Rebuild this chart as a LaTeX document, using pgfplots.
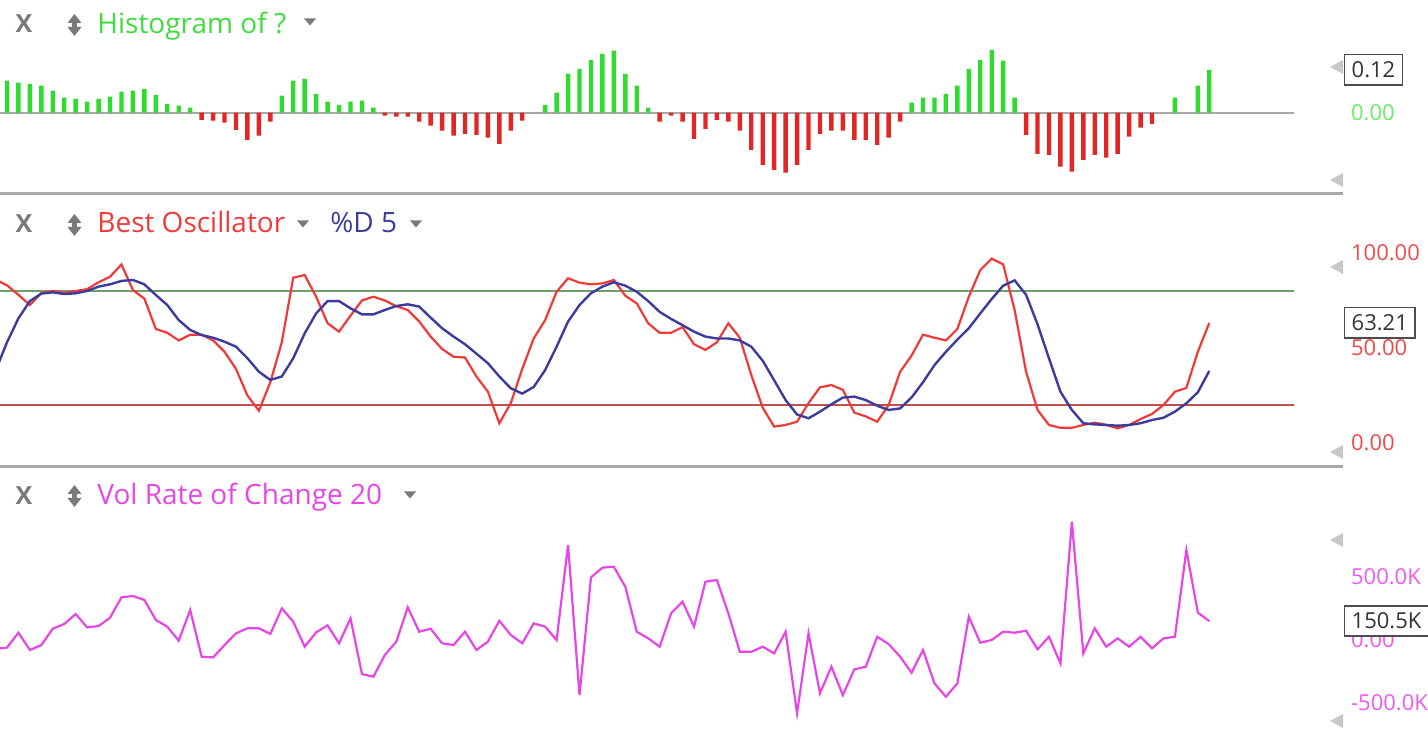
\documentclass[border=0pt]{standalone}
\usepackage{pgfplots}
\pgfplotsset{compat=1.18}
\usepackage{pgfplotstable}
\usepackage{fontspec}
\setmainfont{Open Sans}

\definecolor{histgreen}{HTML}{2EDB2E}
\definecolor{histred}{HTML}{E22626}
\definecolor{titlegreen}{HTML}{3FDC3F}
\definecolor{ticgreen}{HTML}{66EE66}
\definecolor{oscred}{HTML}{F03A3A}
\definecolor{ticred}{HTML}{EE4A4A}
\definecolor{dblue}{HTML}{3C3C9C}
\definecolor{refgreen}{HTML}{6E9E6E}
\definecolor{refred}{HTML}{BE5050}
\definecolor{volmag}{HTML}{E646E6}
\definecolor{ticmag}{HTML}{EE5AEE}
\definecolor{sepgray}{HTML}{A8A8A8}
\definecolor{icongray}{HTML}{7A7A7A}
\definecolor{trigray}{HTML}{C8C8C8}

% histogram, one table for each colour
\pgfplotstableread{
i v
0 0.090
1 0.084
2 0.081
3 0.076
4 0.062
5 0.042
6 0.039
7 0.031
8 0.039
9 0.045
10 0.059
11 0.062
12 0.067
13 0.050
14 0.025
15 0.020
16 0.014
24 0.048
25 0.090
26 0.095
27 0.053
28 0.031
29 0.022
30 0.031
31 0.034
32 0.014
47 0.022
48 0.056
49 0.109
50 0.123
51 0.148
52 0.165
53 0.174
54 0.109
55 0.076
56 0.014
79 0.028
80 0.042
81 0.042
82 0.053
83 0.076
84 0.123
85 0.148
86 0.176
87 0.146
88 0.042
102 0.042
104 0.076
105 0.120
}\histup

\pgfplotstableread{
i v
17 -0.020
18 -0.022
19 -0.028
20 -0.048
21 -0.076
22 -0.064
23 -0.025
33 -0.008
34 -0.011
35 -0.011
36 -0.025
37 -0.036
38 -0.050
39 -0.064
40 -0.059
41 -0.062
42 -0.070
43 -0.087
44 -0.050
45 -0.022
57 -0.025
58 -0.008
59 -0.025
60 -0.073
61 -0.045
62 -0.020
63 -0.025
64 -0.050
65 -0.104
66 -0.146
67 -0.160
68 -0.168
69 -0.146
70 -0.104
71 -0.059
72 -0.050
73 -0.050
74 -0.076
75 -0.076
76 -0.090
77 -0.070
78 -0.025
89 -0.062
90 -0.115
91 -0.118
92 -0.151
93 -0.165
94 -0.132
95 -0.118
96 -0.126
97 -0.115
98 -0.067
99 -0.042
100 -0.031
}\histdown

% best oscillator and its %D 5
\pgfplotstableread{
i red blue
-1 86 38
0 83 53
1 78 65.6
2 72.6 74.7
3 79 78.6
4 80 79.3
5 79 78.4
6 80 78.8
7 81 80
8 84.6 82.3
9 87.5 83.5
10 94 85.3
11 80.5 85.8
12 76 83.5
13 60 77.9
14 58 72.6
15 54 64.7
16 57 59.5
17 57 56.8
18 54 55.4
19 48 53.3
20 39 50.7
21 25 44.6
22 17 37.5
23 32 33.2
24 53 35
25 87 44.6
26 88.4 57.7
27 77 68.2
28 63 74.7
29 58.6 74.7
30 67 70.9
31 75 67.7
32 77 67.7
33 75 70
34 72 72.1
35 70 73
36 64 71.8
37 56 66
38 49.5 60.4
39 45.4 56
40 45 52
41 35 47
42 27 42
43 10.4 35
44 21 28.8
45 39 26
46 55 29.5
47 64.7 38.4
48 79.6 50.7
49 86.7 63.9
50 84.4 72.6
51 83.5 78.8
52 84 82.3
53 85.8 84.6
54 77.5 82.8
55 73.5 79.6
56 63 74.7
57 58 69
58 58 65.3
59 61 62
60 52 58.6
61 49 56
62 53 55
63 63 55
64 55.4 54
65 35.8 50.7
66 18.6 43.3
67 8.6 33
68 9.5 22.6
69 11.2 15
70 21 13
71 29.3 16.5
72 30.5 20.4
73 28 23.9
74 16 24.4
75 14 22.6
76 11.2 19.6
77 20 17.4
78 37.5 18.2
79 46 24
80 57 32
81 55.4 41
82 54 48
83 60 54.4
84 77 60.4
85 91 68.2
86 97 75.8
87 94 82.8
88 70 85.6
89 37.5 78
90 17.4 62.5
91 9.5 44.6
92 8 27
93 8 17.4
94 9.5 10.4
95 10.7 9.8
96 9.5 9.5
97 7.7 9.1
98 9.5 9.5
99 12.6 10.4
100 15.3 12.1
101 20 13.3
102 27 16.5
103 29 20.9
104 48 26.7
105 63.21 37.9
}\osc

% vol rate of change 20, in thousands
\pgfplotstableread{
i v
-1 -70
0 -60
1 58
2 -79
3 -40
4 90
5 127
6 206
7 100
8 111
9 177
10 339
11 349
12 318
13 159
14 106
15 -5
16 238
17 -132
18 -138
19 -40
20 53
21 93
22 93
23 48
24 251
25 146
26 -53
27 61
28 116
29 -26
30 172
31 -270
32 -291
33 -119
34 -13
35 259
36 66
37 90
38 -26
39 -40
40 66
41 -79
42 -13
43 153
44 40
45 -26
46 132
47 106
48 0
49 754
50 -437
51 497
52 574
53 582
54 423
55 66
56 13
57 -53
58 212
59 304
60 106
61 463
62 476
63 212
64 -93
65 -93
66 -53
67 -106
68 66
69 -582
70 53
71 -423
72 -212
73 -437
74 -233
75 -212
76 26
77 -32
78 -132
79 -259
80 -79
81 -344
82 -450
83 -344
84 185
85 -21
86 0
87 66
88 58
89 74
90 -74
91 26
92 -185
93 939
94 -106
95 93
96 -53
97 13
98 -53
99 26
100 -66
101 13
102 26
103 714
104 217
105 150.5
}\vol

\pgfplotsset{
  panel/.style={
    scale only axis, width=647pt, anchor=north west,
    xmin=-0.61, xmax=112.4, xtick=\empty,
    axis x line=none, axis y line*=right,
    y axis line style={draw=none},
    major tick length=0pt, no marks,
    yticklabel style={anchor=west, xshift=25pt, font=\fontsize{11}{13}\selectfont},
    extra y tick style={yticklabel style={draw=black!70, line width=0.7pt,
      fill=white, text=black!80, inner sep=3.5pt}},
  },
}

\newcommand{\closex}[1]{\node[anchor=base, text=icongray, inner sep=0pt,
  font=\fontsize{12.5}{14}\selectfont\bfseries] at (24,#1) {X};}
\newcommand{\updown}[2]{%
  \fill[icongray] (#1-7,#2-2) -- (#1+7,#2-2) -- (#1,#2-11) -- cycle;
  \fill[icongray] (#1-7,#2+2) -- (#1+7,#2+2) -- (#1,#2+11) -- cycle;
  \fill[icongray] (#1-2.5,#2-4) rectangle (#1+2.5,#2+4);}
\newcommand{\dropdown}[2]{\fill[icongray] (#1-6,#2-3.5) -- (#1+6,#2-3.5) -- (#1,#2+3.5) -- cycle;}
\newcommand{\scrolltri}[1]{\fill[trigray] (1330,#1) -- (1343,#1-7) -- (1343,#1+7) -- cycle;}

\begin{document}
\begin{tikzpicture}
\path[use as bounding box] (0,0) rectangle (714pt,364pt);

\begin{axis}[panel, at={(0pt,364pt)}, height=96pt,
  ymin=-0.222, ymax=0.3156,
  ytick={0}, yticklabels={0.00}, yticklabel style={text=ticgreen},
  extra y ticks={0.12}, extra y tick labels={0.12}]
\addplot[sepgray, line width=1pt] coordinates {(-1,0) (113,0)};
\addplot[ybar, bar width=2.2pt, bar shift=0pt, fill=histgreen, draw=none] table[x=i, y=v] {\histup};
\addplot[ybar, bar width=2.2pt, bar shift=0pt, fill=histred, draw=none] table[x=i, y=v] {\histdown};
\end{axis}

\begin{axis}[panel, at={(0pt,266pt)}, height=135pt,
  ymin=-12.1, ymax=130,
  ytick={0,50,100}, yticklabels={0.00,50.00,100.00}, yticklabel style={text=ticred},
  extra y ticks={63.21}, extra y tick labels={63.21}]
\addplot[refgreen, line width=1.2pt] coordinates {(-1,80) (113,80)};
\addplot[refred, line width=1.2pt] coordinates {(-1,20) (113,20)};
\addplot[oscred, line width=1.1pt] table[x=i, y=red] {\osc};
\addplot[dblue, line width=1.2pt] table[x=i, y=blue] {\osc};
\end{axis}

\begin{axis}[panel, at={(0pt,129pt)}, height=129pt,
  ymin=-698, ymax=1349,
  ytick={-500,0,500}, yticklabels={-500.0K,0.00,500.0K}, yticklabel style={text=ticmag},
  extra y ticks={150.5}, extra y tick labels={150.5K}]
\addplot[volmag, line width=1.1pt] table[x=i, y=v] {\vol};
\end{axis}

% panel chrome, in pixel units from the top left
\begin{scope}[x=0.5pt, y=-0.5pt, shift={(0pt,364pt)}]
\draw[sepgray, line width=1.5pt] (0,194) -- (1343,194);
\draw[sepgray, line width=1.5pt] (0,467) -- (1343,467);

\closex{33} \updown{74.5}{25}
\node[anchor=base west, inner sep=0pt, text=titlegreen, font=\fontsize{14}{16}\selectfont] at (97,34) {Histogram of ?};
\dropdown{310}{22}

\closex{233} \updown{74.5}{225}
\node[anchor=base west, inner sep=0pt, text=oscred, font=\fontsize{14}{16}\selectfont] at (97,233) {Best Oscillator};
\dropdown{303}{224}
\node[anchor=base west, inner sep=0pt, text=dblue, font=\fontsize{14}{16}\selectfont] at (330,233) {\%D 5};
\dropdown{416}{224}

\closex{505} \updown{74.5}{496}
\node[anchor=base west, inner sep=0pt, text=volmag, font=\fontsize{14}{16}\selectfont] at (97,505) {Vol Rate of Change 20};
\dropdown{410}{495}

\scrolltri{67} \scrolltri{180}
\scrolltri{267} \scrolltri{452}
\scrolltri{540} \scrolltri{721}
\end{scope}
\end{tikzpicture}
\end{document}
